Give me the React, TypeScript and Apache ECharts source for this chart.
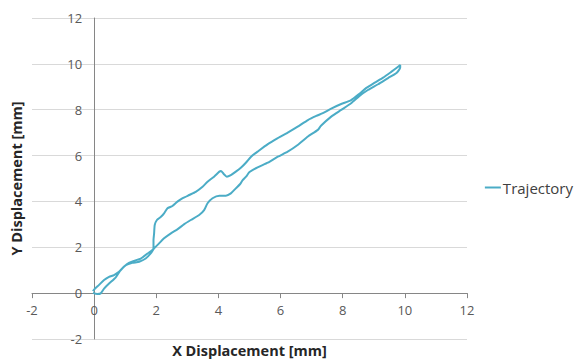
import React, { useEffect, useRef } from "react";
import * as echarts from "echarts";

const seriesName = "Trajectory";
const xTitle = "X Displacement [mm]";
const yTitle = "Y Displacement [mm]";

// Outbound branch (lower-right strand), mm
const outX = [-0.04, 0.1, 0.21, 0.32, 0.48, 0.69, 0.85, 1.02, 1.23, 1.45, 1.66, 1.82, 1.93, 2.09, 2.25, 2.47, 2.68, 2.9, 3.11, 3.38, 3.54, 3.65, 3.81, 4.03, 4.24, 4.4, 4.56, 4.7, 4.78, 4.89, 5.0, 5.26, 5.59, 5.91, 6.23, 6.55, 6.88, 7.2, 7.3, 7.63, 7.95, 8.27, 8.54, 8.81, 9.14, 9.46, 9.73, 9.85, 9.85];
const outY = [0.01, -0.04, -0.01, 0.2, 0.42, 0.68, 1.0, 1.22, 1.32, 1.37, 1.51, 1.73, 1.95, 2.17, 2.39, 2.61, 2.78, 3.01, 3.19, 3.41, 3.62, 3.92, 4.14, 4.25, 4.25, 4.35, 4.57, 4.76, 4.93, 5.08, 5.28, 5.49, 5.69, 5.95, 6.17, 6.46, 6.83, 7.12, 7.3, 7.7, 7.99, 8.28, 8.6, 8.86, 9.11, 9.38, 9.6, 9.84, 9.95];

// Return branch (upper-left strand), mm
const retX = [9.76, 9.56, 9.3, 9.03, 8.76, 8.54, 8.27, 7.95, 7.63, 7.36, 7.15, 6.88, 6.55, 6.23, 5.91, 5.59, 5.26, 5.05, 4.89, 4.73, 4.56, 4.4, 4.27, 4.17, 4.08, 4.03, 3.86, 3.65, 3.49, 3.27, 3.06, 2.85, 2.68, 2.52, 2.36, 2.25, 2.15, 2.02, 1.95, 1.93, 1.91, 1.91, 1.72, 1.5, 1.28, 1.12, 0.96, 0.8, 0.64, 0.48, 0.32, 0.15, 0.03, -0.04, 0.0];
const retY = [9.85, 9.65, 9.4, 9.18, 8.95, 8.7, 8.42, 8.25, 8.05, 7.85, 7.73, 7.55, 7.26, 7.0, 6.76, 6.5, 6.17, 5.95, 5.7, 5.48, 5.3, 5.15, 5.08, 5.2, 5.33, 5.3, 5.08, 4.86, 4.64, 4.42, 4.28, 4.14, 3.99, 3.8, 3.7, 3.48, 3.33, 3.19, 2.97, 2.61, 2.31, 1.95, 1.73, 1.51, 1.41, 1.32, 1.15, 0.93, 0.79, 0.71, 0.57, 0.35, 0.2, 0.09, 0.15];

const axisMin = -2;
const axisMax = 12;
const axisStep = 2;

const FONT = "'Open Sans', 'Noto Sans', sans-serif";

const W = 579;
const H = 359;
const GRID = { left: 32, right: 112, top: 18, bottom: 20 };

export default function App() {
  const ref = useRef<HTMLDivElement>(null);

  useEffect(() => {
    if (!ref.current) return;
    const chart = echarts.init(ref.current, null, { renderer: "svg" });
    const data: [number, number][] = [];
    outX.forEach((x, i) => data.push([x, outY[i]]));
    retX.forEach((x, i) => data.push([x, retY[i]]));

    // Place axes at the zero of the other axis (labels follow the axis line)
    const gw = W - GRID.left - GRID.right;
    const gh = H - GRID.top - GRID.bottom;
    const span = axisMax - axisMin;
    const xAxisOffset = -((0 - axisMin) / span) * gh; // move bottom axis up to y=0
    const yAxisOffset = -((0 - axisMin) / span) * gw; // move left axis right to x=0

    chart.setOption({
      animation: false,
      backgroundColor: "#ffffff",
      textStyle: { fontFamily: FONT },
      grid: { ...GRID, containLabel: false, outerBoundsMode: "none" },
      legend: {
        right: 1,
        top: 175,
        orient: "vertical",
        itemWidth: 16,
        itemHeight: 2,
        itemGap: 0,
        textStyle: { fontSize: 15, color: "#404040", fontFamily: FONT, padding: [0, 0, 0, -3] },
        data: [{ name: seriesName, icon: "rect" }],
      },
      xAxis: {
        type: "value",
        position: "bottom",
        offset: xAxisOffset,
        min: axisMin,
        max: axisMax,
        interval: axisStep,
        name: xTitle,
        nameLocation: "middle",
        nameGap: 50,
        nameTextStyle: { fontSize: 14.5, fontWeight: "bold", color: "#262626", fontFamily: FONT },
        axisLine: { show: true, onZero: false, lineStyle: { color: "#868686", width: 1 } },
        axisTick: { show: true, length: 5, lineStyle: { color: "#868686" } },
        axisLabel: { fontSize: 13, color: "#595959", margin: 10, fontFamily: FONT },
        splitLine: { show: false },
      },
      yAxis: {
        type: "value",
        position: "left",
        offset: yAxisOffset,
        min: axisMin,
        max: axisMax,
        interval: axisStep,
        name: yTitle,
        nameLocation: "middle",
        nameGap: 70,
        nameTextStyle: { fontSize: 14.5, fontWeight: "bold", color: "#262626", fontFamily: FONT },
        axisLine: { show: true, onZero: false, lineStyle: { color: "#868686", width: 1 } },
        axisTick: { show: false },
        axisLabel: { fontSize: 13, color: "#595959", margin: 12, fontFamily: FONT },
        splitLine: { show: true, lineStyle: { color: "#d9d9d9", width: 1 } },
      },
      series: [
        {
          name: seriesName,
          type: "line",
          data,
          symbol: "none",
          smooth: 0.2,
          lineStyle: { color: "#4bacc6", width: 2 },
          itemStyle: { color: "#4bacc6" },
        },
      ],
    });
    return () => chart.dispose();
  }, []);

  return <div ref={ref} style={{ width: W, height: H, position: "absolute", left: 0, top: 0 }} />;
}
